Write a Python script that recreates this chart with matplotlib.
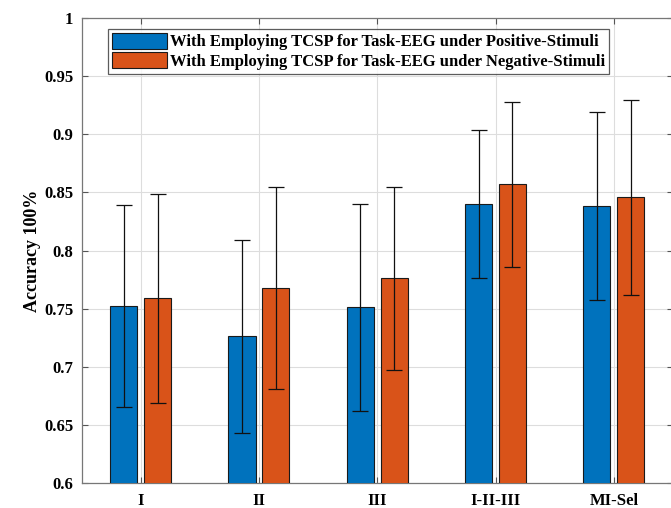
import matplotlib.pyplot as plt
import numpy as np

# data
groups = ['I', 'II', 'III', 'I-II-III', 'MI-Sel']
acc_pos = [0.752, 0.726, 0.751, 0.840, 0.838]
std_pos = [0.087, 0.083, 0.089, 0.064, 0.081]
acc_neg = [0.759, 0.768, 0.776, 0.857, 0.846]
std_neg = [0.090, 0.087, 0.079, 0.071, 0.084]
lab_pos = 'With Employing TCSP for Task-EEG under Positive-Stimuli'
lab_neg = 'With Employing TCSP for Task-EEG under Negative-Stimuli'

plt.rcParams['font.family'] = ['Liberation Serif', 'DejaVu Serif']
plt.rcParams['font.weight'] = 'bold'

fig = plt.figure(figsize=(6.71, 5.08), dpi=100)
ax = fig.add_axes([81.5/671, 25.3/508, (673-81.5)/671, (482.7-18.3)/508])

x = np.arange(1, len(groups)+1)
w = 0.229
off = 0.143

ax.bar(x-off, acc_pos, w, color='#0072BD', edgecolor='#1a1a1a', linewidth=0.8,
       label=lab_pos, zorder=3)
ax.bar(x+off, acc_neg, w, color='#D95319', edgecolor='#1a1a1a', linewidth=0.8,
       label=lab_neg, zorder=3)
ax.errorbar(x-off, acc_pos, yerr=std_pos, fmt='none', ecolor='#111111',
            elinewidth=0.9, capsize=5.5, capthick=0.9, zorder=4)
ax.errorbar(x+off, acc_neg, yerr=std_neg, fmt='none', ecolor='#111111',
            elinewidth=0.9, capsize=5.5, capthick=0.9, zorder=4)

ax.set_xlim(0.5, 5.5)
ax.set_ylim(0.6, 1.0)
ax.set_xticks(x)
ax.set_xticklabels(groups)
yt = np.arange(0.6, 1.001, 0.05)
ax.set_yticks(yt)
ax.set_yticklabels(['0.6', '0.65', '0.7', '0.75', '0.8', '0.85', '0.9', '0.95', '1'])
ax.tick_params(direction='in', top=True, right=True, labelsize=12, length=4,
               color='#555555', pad=6)
ax.tick_params(axis='x', pad=7.5)
for s in ax.spines.values():
    s.set_color('#777777')
    s.set_linewidth(0.9)
ax.grid(True, color='#dddddd', linewidth=0.8, zorder=0)
ax.set_axisbelow(True)
ax.set_ylabel('Accuracy 100%', fontsize=13, fontweight='bold', labelpad=2)

leg = ax.legend(loc='upper left', bbox_to_anchor=(0.044, 0.978), fontsize=12,
                frameon=True, fancybox=False, edgecolor='#333333',
                handlelength=3.3, handleheight=1.1, handletextpad=0.2,
                labelspacing=0.1, borderpad=0.25, borderaxespad=0)
leg.get_frame().set_linewidth(0.9)

plt.savefig('out.png', dpi=100)
